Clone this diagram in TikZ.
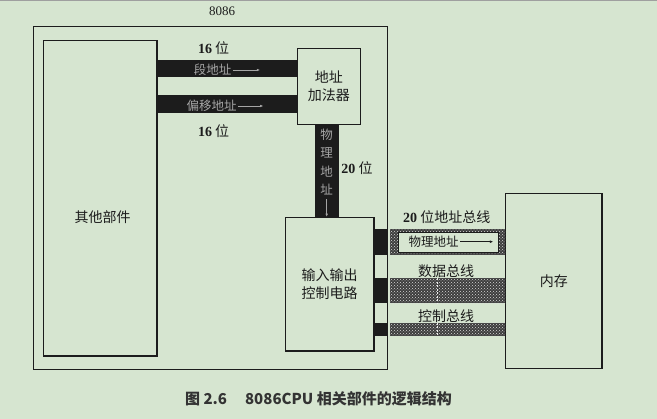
\documentclass[tikz,border=0pt]{standalone}
\usepackage{fontspec}
\setmainfont{Liberation Serif}
\newfontfamily\cjk{Noto Sans CJK SC}
\usetikzlibrary{patterns,arrows.meta}
\definecolor{bg}{RGB}{214,229,208}
\definecolor{ink}{RGB}{28,28,28}
\definecolor{bartext}{RGB}{165,165,165}
\newcommand\bnum[1]{{\rmfamily\bfseries #1}}
\tikzset{
  box/.style={draw=ink, line width=1.2pt, inner sep=0pt},
  lbl/.style={font=\cjk\fontsize{14}{17.5}\selectfont, text=ink, inner sep=0pt, align=center},
  bartxt/.style={font=\cjk\fontsize{12.5}{18.5}\selectfont, text=bartext, inner sep=0pt, align=center},
  bararrow/.style={draw=bartext, line width=0.6pt, -{Latex[length=3pt,width=2.6pt]}},
  inkarrow/.style={draw=ink, line width=0.7pt, -{Latex[length=3.5pt,width=3pt]}},
  bar/.style={fill=ink},
  checkbase/.style={fill=ink!85},
  checkdots/.style={pattern=crosshatch dots, pattern color=gray!30},
  whitedash/.style={draw=white!85!gray, dashed, line width=0.8pt, dash pattern=on 2pt off 1.5pt},
}
\begin{document}
\begin{tikzpicture}[x=1pt,y=-1pt]
\useasboundingbox (0,0) rectangle (657,419);
\fill[bg] (0,0) rectangle (657,419);
\fill[gray!75] (0,0) rectangle (657,1.5);

% boxes
\node[box, minimum width=354pt, minimum height=342.6pt] (cpu) at (210.5,198) {};
\node[lbl, font=\rmfamily\fontsize{13}{15}\selectfont] (cpulbl) at (222,11) {8086};
\node[box, minimum width=113.4pt, minimum height=315.3pt] (other) at (100.3,198.3) {};
\node[lbl] (otherlbl) at (102.6,216.7) {其他部件};
\node[box, lbl, minimum width=62.9pt, minimum height=76pt] (adder) at (328.9,86.3) {地址\\加法器};
\node[box, lbl, minimum width=88.7pt, minimum height=133.7pt] (io) at (329.7,284.2) {输入输出\\控制电路};
\node[box, lbl, minimum width=96.3pt, minimum height=175pt] (mem) at (553.9,280.8) {内存};

% left buses
\coordinate (b1t) at (0,60);
\coordinate (b1b) at (0,77.3);
\coordinate (b2t) at (0,95);
\coordinate (b2b) at (0,112.7);
\fill[bar] (other.east |- b1t) rectangle (adder.west |- b1b);
\fill[bar] (other.east |- b2t) rectangle (adder.west |- b2b);
\node[bartxt] (t1) at (212.5,70) {段地址};
\draw[bararrow] (t1.east) ++(1.5,0) coordinate (t1a) -- ++(27,0) coordinate (t1e);
\node[bartxt] (t2) at (211.5,106) {偏移地址};
\draw[bararrow] (t2.east) ++(1.5,0) coordinate (t2a) -- ++(25,0) coordinate (t2e);
\node[lbl] (l16a) at (213.6,47.7) {\bnum{16} 位};
\node[lbl] (l16b) at (213.6,131) {\bnum{16} 位};

% vertical bus
\coordinate (vl) at (315,0);
\coordinate (vr) at (338.5,0);
\fill[bar] (adder.south -| vl) rectangle (io.north -| vr);
\node[bartxt] (vt) at (326.7,162) {物\\理\\地\\址};
\draw[bararrow] (vt.south) ++(0,4) coordinate (vta) -- (vta |- io.north);
\node[lbl] (l20) at (357,168) {\bnum{20} 位};

% right buses
\coordinate (rAt) at (0,229.3);
\coordinate (rAb) at (0,255);
\coordinate (rBt) at (0,278.3);
\coordinate (rBb) at (0,303.3);
\coordinate (rCt) at (0,322.7);
\coordinate (rCb) at (0,335.7);
\coordinate (cx) at (389.5,0);
\fill[bar] (io.east |- rAt) rectangle (cpu.east |- rAb);
\fill[bar] (io.east |- rBt) rectangle (cpu.east |- rBb);
\fill[bar] (io.east |- rCt) rectangle (cpu.east |- rCb);
\foreach \t/\b in {rAt/rAb, rBt/rBb, rCt/rCb}{
  \fill[checkbase] (cx |- \t) rectangle (mem.west |- \b);
  \fill[checkdots] (cx |- \t) rectangle (mem.west |- \b);
}
\node[draw=ink, line width=0.5pt, fill=bg, inner sep=0pt, minimum width=100pt, minimum height=20pt] (inA) at (448,242) {};
\node[lbl, font=\cjk\fontsize{12.5}{15}\selectfont] (tA) at (433.5,241.7) {物理地址};
\draw[inkarrow, shorten >=5pt] (tA.east) ++(1.5,0) coordinate (tAa) -- (tAa -| inA.east);
\draw[whitedash] (437.3,0 |- rBt) -- (437.3,0 |- rBb);
\draw[whitedash] (437.3,0 |- rCt) -- (437.3,0 |- rCb);
\node[lbl] (lA) at (446.7,216.7) {\bnum{20} 位地址总线};
\node[lbl] (lB) at (446,270.7) {数据总线};
\node[lbl] (lC) at (446,315.7) {控制总线};

% caption
\node[font=\cjk\bfseries\fontsize{15}{17}\selectfont, text=black!80, inner sep=0pt] (cap) at (318.5,398.5) {图 2.6\hspace{1.2em}8086CPU 相关部件的逻辑结构};
\end{tikzpicture}
\end{document}
